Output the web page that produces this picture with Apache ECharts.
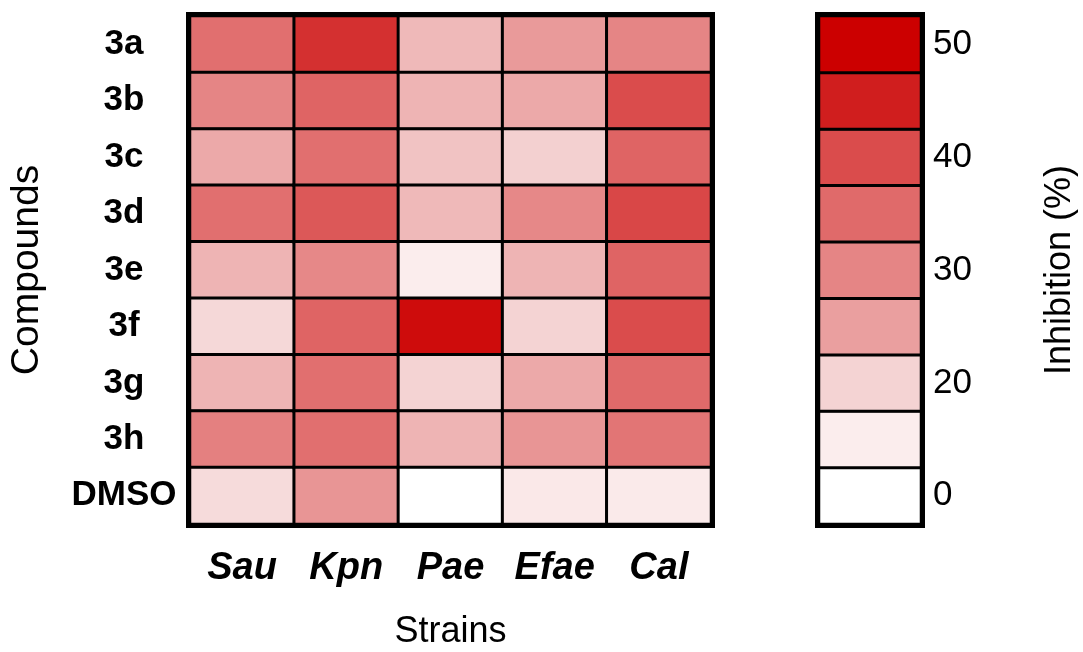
<!DOCTYPE html>
<html>
<head>
<meta charset="utf-8">
<script src="https://cdn.jsdelivr.net/npm/echarts@6/dist/echarts.min.js"></script>
<style>
    html, body { margin: 0; padding: 0; background: #fff; }
    #chart { width: 1083px; height: 652px; }
</style>
</head>
<body>
<div id="chart"></div>
<script>
// rows (top to bottom) and columns
const compounds = ['3a', '3b', '3c', '3d', '3e', '3f', '3g', '3h', 'DMSO'];
const strains = ['Sau', 'Kpn', 'Pae', 'Efae', 'Cal'];

// inhibition (%) per strain, in the order of compounds
const sau = [34, 30, 24, 34, 23, 19, 23, 31, 18.5];
const kpn = [43, 36, 34, 38, 29.5, 36, 34, 34, 27];
const pae = [22.5, 23, 21.5, 22.5, 15, 48, 20, 23, 0];
const efae = [26, 24, 20.3, 29.5, 23, 20, 24, 27, 16];
const cal = [30, 40, 36, 40.5, 36, 40, 35, 33, 15.5];

// colour bar steps (bottom to top) and their tick labels
const levels = [0, 15, 20, 25, 30, 35, 40, 45, 50];
const levelLabels = ['0', '', '20', '', '30', '', '40', '', '50'];

const columns = [sau, kpn, pae, efae, cal];
let cells = [];
columns.forEach((col, x) => {
    col.forEach((v, y) => cells.push([x, y, v]));
});
const barCells = levels.map((v, i) => [0, i, v]);

const font = 'Liberation Sans';

const chart = echarts.init(document.getElementById('chart'), null, { renderer: 'canvas' });
const option = {
    animation: false,
    textStyle: { fontFamily: font, color: '#000' },
    grid: [
        { left: 190, top: 16, width: 521, height: 508, outerBoundsMode: 'none', show: true, borderColor: '#000', borderWidth: 8, backgroundColor: 'transparent' },
        { left: 819, top: 16, width: 102, height: 508, outerBoundsMode: 'none', show: true, borderColor: '#000', borderWidth: 8, backgroundColor: 'transparent' }
    ],
    xAxis: [
        {
            gridIndex: 0,
            type: 'category',
            data: strains,
            position: 'bottom',
            axisLine: { show: false },
            axisTick: { show: false },
            splitLine: { show: false },
            axisLabel: { interval: 0, fontSize: 38, fontWeight: 'bold', fontStyle: 'italic', color: '#000', margin: 26, fontFamily: font },
            name: 'Strains',
            nameLocation: 'middle',
            nameGap: 90,
            nameTextStyle: { fontSize: 36, color: '#000', fontFamily: font }
        },
        {
            gridIndex: 1,
            type: 'category',
            data: [''],
            show: false
        }
    ],
    yAxis: [
        {
            gridIndex: 0,
            type: 'category',
            data: compounds,
            inverse: true,
            axisLine: { show: false },
            axisTick: { show: false },
            splitLine: { show: false },
            axisLabel: { interval: 0, fontSize: 35, fontWeight: 'bold', color: '#000', align: 'center', margin: 66, fontFamily: font },
            name: 'Compounds',
            nameLocation: 'middle',
            nameRotate: 90,
            nameGap: 143,
            nameTextStyle: { fontSize: 39, color: '#000', fontFamily: font }
        },
        {
            gridIndex: 1,
            type: 'category',
            data: levels.map(String),
            position: 'right',
            axisLine: { show: false },
            axisTick: { show: false },
            splitLine: { show: false },
            axisLabel: {
                interval: 0, fontSize: 35, color: '#000', margin: 12, fontFamily: font,
                formatter: (v, i) => levelLabels[i]
            },
            name: 'Inhibition (%)',
            nameLocation: 'middle',
            nameRotate: 90,
            nameGap: 121,
            nameTextStyle: { fontSize: 36, color: '#000', fontFamily: font }
        }
    ],
    visualMap: {
        show: false,
        type: 'continuous',
        min: 0,
        max: 50,
        inRange: {
            color: ['#ffffff', '#fefbfb', '#fcf4f4', '#fbeded', '#f4d3d3', '#ea9f9f',
                    '#e58585', '#e06a6a', '#da4c4c', '#d01e1e', '#cc0000']
        }
    },
    series: [
        {
            type: 'heatmap',
            xAxisIndex: 0,
            yAxisIndex: 0,
            data: cells,
            itemStyle: { borderColor: '#000', borderWidth: 3 },
            emphasis: { disabled: true }
        },
        {
            type: 'heatmap',
            xAxisIndex: 1,
            yAxisIndex: 1,
            data: barCells,
            itemStyle: { borderColor: '#000', borderWidth: 3 },
            emphasis: { disabled: true }
        }
    ]
};
chart.setOption(option);
</script>
</body>
</html>
